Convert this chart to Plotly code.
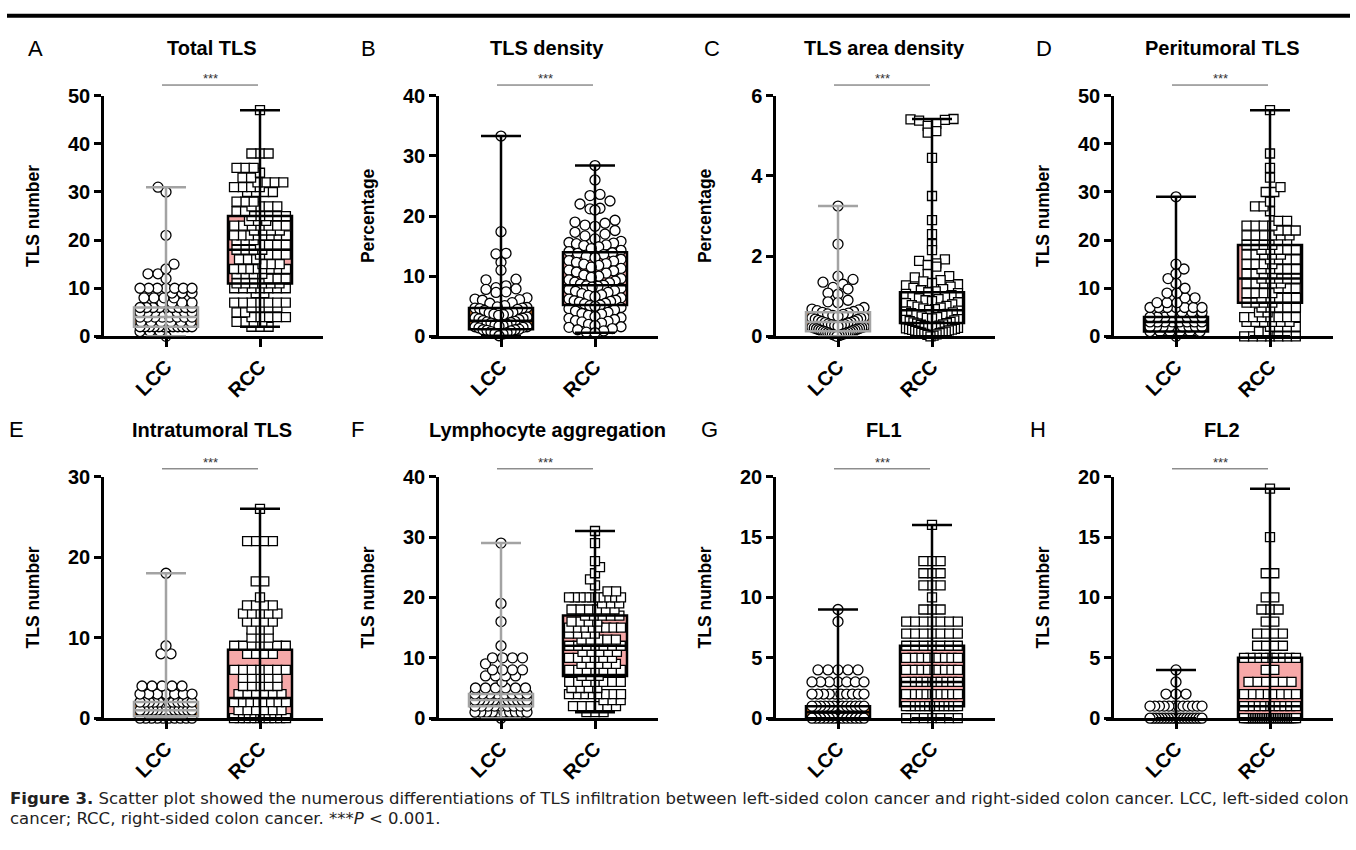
import numpy as np
import plotly.graph_objects as go

FIG_W, FIG_H = 1356, 850
FONT = "Liberation Sans, Arial, sans-serif"

# ---------------- data ----------------
CATS = ["LCC", "RCC"]

# A  Total TLS
A_lcc_v = [0, 1, 2, 3, 4, 5, 6, 7, 8, 9, 10, 12, 13, 14, 15, 21, 30, 31]
A_lcc_n = [1, 3, 12, 6, 8, 8, 9, 4, 4, 3, 7, 1, 2, 1, 1, 1, 1, 1]
A_rcc_v = [2, 3, 4, 5, 6, 7, 9, 10, 11, 12, 13, 14, 15, 16, 17, 18, 19, 20, 21, 22, 23, 24, 25, 26, 27, 28, 30, 31, 32, 33, 34, 35, 38, 47]
A_rcc_n = [3, 4, 5, 2, 4, 7, 2, 7, 6, 3, 4, 8, 3, 3, 4, 4, 4, 3, 8, 4, 7, 3, 5, 2, 4, 3, 4, 4, 4, 2, 1, 3, 3, 1]
A_lcc_box = [0, 2, 4, 6, 31]
A_rcc_box = [2, 11, 18, 25, 47]

# B  TLS density (%)
B_lcc = [33.3, 17.4, 13.8, 13.7, 12.3, 11.0, 9.5, 9.4, 8.4, 8.1, 7.9, 7.8, 7.4, 7.3, 6.4, 6.2,
         6.1, 6.0, 5.6, 5.5, 5.1, 4.9, 4.8, 4.7, 4.7, 4.6, 4.5, 4.3, 4.0, 3.9, 3.8, 3.7, 3.6,
         3.5, 3.2, 3.1, 3.0, 2.9, 2.8, 2.6, 2.5, 2.4, 2.3, 2.2, 2.0, 1.9, 1.8, 1.7, 1.6, 1.6,
         1.5, 1.4, 1.2, 1.1, 1.1, 1.0, 0.9, 0.8, 0.6, 0.5, 0.4, 0.1]
B_rcc = [28.4, 26.0, 23.6, 23.4, 22.5, 22.0, 21.3, 21.2, 21.0, 19.3, 19.0, 18.8, 18.5, 18.3,
         17.6, 17.3, 17.0, 16.7, 16.2, 15.8, 15.6, 15.5, 15.4, 15.2, 15.1, 14.9, 14.6, 14.3,
         14.1, 13.9, 13.8, 13.6, 13.3, 13.1, 12.8, 12.6, 12.5, 12.3, 12.1, 12.0, 11.8, 11.5,
         11.3, 11.0, 10.9, 10.7, 10.5, 10.2, 10.0, 9.8, 9.6, 9.4, 9.2, 9.0, 8.9, 8.7, 8.5,
         8.4, 8.3, 8.2, 8.0, 7.8, 7.6, 7.5, 7.3, 7.1, 6.9, 6.8, 6.6, 6.4, 6.2, 6.0, 5.9, 5.8,
         5.7, 5.5, 5.4, 5.2, 5.1, 5.0, 4.8, 4.6, 4.4, 4.2, 4.0, 3.8, 3.7, 3.5, 3.3, 3.1, 3.0,
         2.8, 2.6, 2.5, 2.4, 2.2, 2.0, 1.8, 1.6, 1.5, 1.3, 1.1, 0.9, 0.7, 0.6]
B_lcc_box = [0.1, 1.2, 2.6, 4.7, 33.3]
B_rcc_box = [0.6, 5.2, 8.5, 14.0, 28.4]

# C  TLS area density (%)
C_lcc = [3.25, 2.3, 1.5, 1.42, 1.35, 1.3, 1.22, 1.18, 1.08, 1.05, 0.9, 0.86, 0.84, 0.72, 0.68,
         0.66, 0.64, 0.62, 0.6, 0.58, 0.56, 0.55, 0.52, 0.5, 0.48, 0.46, 0.45, 0.43, 0.42, 0.4,
         0.38, 0.37, 0.35, 0.34, 0.33, 0.31, 0.3, 0.29, 0.28, 0.27, 0.25, 0.24, 0.23, 0.22,
         0.21, 0.2, 0.19, 0.18, 0.17, 0.16, 0.15, 0.14, 0.13, 0.12, 0.11, 0.1, 0.09, 0.08,
         0.07, 0.06, 0.05, 0.04, 0.03, 0.02, 0.0]
C_rcc = [5.42, 5.41, 5.40, 5.38, 5.30, 5.25, 5.12, 5.08, 4.45, 3.50, 2.90, 2.55, 2.30, 2.15,
         1.92, 1.88, 1.82, 1.78, 1.74, 1.55, 1.50, 1.47, 1.40, 1.37, 1.33, 1.30, 1.27, 1.24,
         1.21, 1.18, 1.15, 1.12, 1.10, 1.08, 1.06, 1.03, 1.00, 0.98, 0.95, 0.93, 0.90, 0.88,
         0.85, 0.83, 0.80, 0.78, 0.76, 0.74, 0.72, 0.70, 0.68, 0.66, 0.64, 0.62, 0.60, 0.58,
         0.56, 0.54, 0.52, 0.50, 0.48, 0.46, 0.45, 0.43, 0.41, 0.40, 0.38, 0.36, 0.35, 0.33,
         0.32, 0.30, 0.29, 0.27, 0.26, 0.25, 0.23, 0.22, 0.21, 0.20, 0.19, 0.18, 0.17, 0.16,
         0.15, 0.14, 0.12, 0.11, 0.10, 0.09, 0.08, 0.06, 0.05, 0.04, 0.02, 0.0]
C_lcc_box = [0.0, 0.13, 0.36, 0.6, 3.25]
C_rcc_box = [0.0, 0.33, 0.65, 1.1, 5.42]

# D  Peritumoral TLS
D_lcc_v = [0, 1, 2, 3, 4, 5, 6, 7, 8, 9, 10, 11, 12, 13, 14, 15, 29]
D_lcc_n = [1, 6, 9, 8, 8, 4, 7, 3, 2, 2, 1, 1, 1, 1, 1, 1, 1]
D_rcc_v = [0, 1, 2, 3, 4, 5, 6, 7, 8, 9, 10, 11, 12, 13, 14, 15, 16, 17, 18, 19, 20, 21, 22, 23, 24, 26, 27, 28, 30, 31, 33, 35, 38, 47]
D_rcc_n = [7, 2, 4, 6, 7, 2, 5, 4, 5, 4, 3, 5, 5, 4, 5, 4, 4, 5, 5, 4, 2, 6, 3, 4, 2, 1, 2, 1, 2, 1, 1, 1, 1, 1]
D_lcc_box = [0, 1, 3, 4, 29]
D_rcc_box = [0, 7, 12, 19, 47]

# E  Intratumoral TLS
E_lcc_v = [0, 1, 2, 3, 4, 8, 9, 18]
E_lcc_n = [10, 13, 12, 7, 5, 2, 1, 1]
E_rcc_v = [0, 1, 2, 3, 4, 5, 6, 8, 9, 10, 11, 12, 13, 14, 15, 17, 22, 26]
E_rcc_n = [10, 6, 8, 6, 5, 5, 7, 4, 7, 3, 3, 4, 5, 4, 1, 2, 4, 1]
E_lcc_box = [0, 0.25, 1, 2, 18]
E_rcc_box = [0, 0, 2.5, 8.5, 26]

# F  Lymphocyte aggregation
F_lcc_v = [0, 1, 2, 3, 4, 5, 6, 7, 8, 9, 10, 12, 16, 19, 29]
F_lcc_n = [1, 10, 9, 12, 8, 6, 1, 4, 4, 1, 4, 1, 1, 1, 1]
F_rcc_v = [1, 2, 3, 4, 5, 6, 7, 8, 9, 10, 11, 12, 13, 14, 15, 16, 17, 18, 19, 20, 21, 22, 23, 24, 25, 26, 29, 31]
F_rcc_n = [3, 6, 3, 8, 4, 7, 3, 7, 5, 6, 5, 7, 5, 4, 8, 4, 5, 6, 3, 10, 2, 1, 1, 1, 1, 1, 1, 1]
F_lcc_box = [0, 2, 3, 4, 29]
F_rcc_box = [1, 7, 12, 17, 31]

# G  FL1
G_lcc_v = [0, 1, 2, 3, 4, 8, 9]
G_lcc_n = [13, 13, 10, 7, 5, 1, 1]
G_rcc_v = [0, 1, 2, 3, 4, 5, 6, 7, 8, 9, 10, 11, 12, 13, 16]
G_rcc_n = [7, 12, 10, 10, 9, 9, 7, 7, 7, 3, 1, 3, 3, 3, 1]
G_lcc_box = [0, 0, 0.5, 1, 9]
G_rcc_box = [0, 1, 3, 6, 16]

# H  FL2
H_lcc_v = [0, 1, 2, 3, 4]
H_lcc_n = [18, 12, 3, 1, 1]
H_rcc_v = [0, 1, 2, 3, 4, 5, 6, 7, 8, 9, 10, 12, 15, 19]
H_rcc_n = [30, 10, 8, 6, 2, 9, 4, 4, 2, 3, 2, 2, 1, 1]
H_lcc_box = [0, 0, 0, 0, 4]
H_rcc_box = [0, 0, 1, 5, 19]

# ---------------- styling ----------------
ORANGE = "#c2661c"
TAN = "#a9825f"
PINK = "#f6a8a8"
GRAY = "#a3a3a3"
BLACK = "#000000"


def rep(v, n):
    return np.repeat(np.asarray(v, float), n)


panels = [
    dict(letter="A", title="Total TLS", ylab="TLS number", ymax=50, dtick=10,
         lcc=rep(A_lcc_v, A_lcc_n), rcc=rep(A_rcc_v, A_rcc_n), lbox=A_lcc_box, rbox=A_rcc_box,
         ledge=GRAY, lfill=ORANGE, rsym="square", rows="value"),
    dict(letter="B", title="TLS density", ylab="Percentage", ymax=40, dtick=10,
         lcc=np.array(B_lcc), rcc=np.array(B_rcc), lbox=B_lcc_box, rbox=B_rcc_box,
         ledge=BLACK, lfill=ORANGE, rsym="circle", rows="px"),
    dict(letter="C", title="TLS area density", ylab="Percentage", ymax=6, dtick=2,
         lcc=np.array(C_lcc), rcc=np.array(C_rcc), lbox=C_lcc_box, rbox=C_rcc_box,
         ledge=GRAY, lfill=ORANGE, rsym="square", rows="px"),
    dict(letter="D", title="Peritumoral TLS", ylab="TLS number", ymax=50, dtick=10,
         lcc=rep(D_lcc_v, D_lcc_n), rcc=rep(D_rcc_v, D_rcc_n), lbox=D_lcc_box, rbox=D_rcc_box,
         ledge=BLACK, lfill=ORANGE, rsym="square", rows="value"),
    dict(letter="E", title="Intratumoral TLS", ylab="TLS number", ymax=30, dtick=10,
         lcc=rep(E_lcc_v, E_lcc_n), rcc=rep(E_rcc_v, E_rcc_n), lbox=E_lcc_box, rbox=E_rcc_box,
         ledge=GRAY, lfill=ORANGE, rsym="square", rows="value"),
    dict(letter="F", title="Lymphocyte aggregation", ylab="TLS number", ymax=40, dtick=10,
         lcc=rep(F_lcc_v, F_lcc_n), rcc=rep(F_rcc_v, F_rcc_n), lbox=F_lcc_box, rbox=F_rcc_box,
         ledge=GRAY, lfill=TAN, rsym="square", rows="value"),
    dict(letter="G", title="FL1", ylab="TLS number", ymax=20, dtick=5,
         lcc=rep(G_lcc_v, G_lcc_n), rcc=rep(G_rcc_v, G_rcc_n), lbox=G_lcc_box, rbox=G_rcc_box,
         ledge=BLACK, lfill=ORANGE, rsym="square", rows="value"),
    dict(letter="H", title="FL2", ylab="TLS number", ymax=20, dtick=5,
         lcc=rep(H_lcc_v, H_lcc_n), rcc=rep(H_rcc_v, H_rcc_n), lbox=H_lcc_box, rbox=H_rcc_box,
         ledge=BLACK, lfill=ORANGE, rsym="square", rows="value"),
]

# geometry (pixels)
YAXIS_PX = [102, 437, 774, 1112]
ROWS = [(87, 334), (478, 726)]
LETTER_X = [[35, 369, 712, 1044], [16, 357, 709, 1038]]
TITLE_Y = [38, 430]
PX_PER_CAT = 94.0
X_RANGE = [-70 / PX_PER_CAT, 1 + 63 / PX_PER_CAT]
BOX_HW = 32 / PX_PER_CAT
CAP_HW = 20 / PX_PER_CAT
SIZE = {"circle": 10, "square": 9}
SPACING = {"circle": 10.0, "square": 8.6}
HALF_W = 26.0


def row_offsets(vals, ppu, sym, mode):
    """GraphPad-like scatter: points in the same row are laid side by side, centred
    (lowest values in the middle), compressed to stay within +-HALF_W px.  Narrow rows
    may slide sideways to avoid overlapping the rows already placed beneath them."""
    vals = np.asarray(vals, float)
    d = SPACING[sym]
    keys = np.floor(vals * ppu / SIZE[sym]) if mode == "px" else vals
    out = np.zeros(len(vals))
    placed_x, placed_y = [], []
    last_sign = 1.0
    for key in np.unique(keys):
        idx = np.where(keys == key)[0]
        idx = idx[np.argsort(vals[idx], kind="stable")]
        k = len(idx)
        s = d if k == 1 else min(d, 2 * HALF_W / (k - 1))
        slots = (np.arange(k) - (k - 1) / 2) * s
        order = np.argsort(np.abs(slots) - 1e-6 * (slots < 0), kind="stable")
        base = slots[order]
        ys = vals[idx] * ppu
        shift = 0.0
        if mode == "value" and placed_x:
            room = HALF_W - (k - 1) * s / 2
            PX, PY = np.array(placed_x), np.array(placed_y)
            near = np.abs(PY - ys[0]) < d
            if room > 0.25 and near.any():
                cands = np.arange(-room, room + 1e-9, 0.5)
                pen = []
                for c in cands:
                    dist = np.sqrt((base[:, None] + c - PX[near][None, :]) ** 2 +
                                   (ys[:, None] - PY[near][None, :]) ** 2)
                    pen.append(np.clip(0.92 * d - dist, 0, None).sum())
                pen = np.array(pen)
                good = pen <= pen.min() + 1e-6
                best = np.abs(cands[good]).min()
                ch = cands[good & (np.abs(np.abs(cands) - best) < 1e-9)]
                if len(ch) > 1:
                    shift = ch.max() if last_sign < 0 else ch.min()
                else:
                    shift = ch[0]
                if shift != 0:
                    last_sign = np.sign(shift)
        out[idx] = base + shift
        placed_x.extend(list(base + shift))
        placed_y.extend(list(ys))
    return out


fig = go.Figure()
shapes = []
annotations = []
layout = {}
TICKFONT = dict(family=FONT, size=20, color="black", weight="bold")

for k, p in enumerate(panels):
    col, row = k % 4, k // 4
    i = k + 1
    xa = "x" if i == 1 else f"x{i}"
    ya = "y" if i == 1 else f"y{i}"
    ypx = YAXIS_PX[col]
    top, bot = ROWS[row]
    ppu = (bot - top) / p["ymax"]

    layout["xaxis" if i == 1 else f"xaxis{i}"] = dict(
        domain=[(ypx - 6) / FIG_W, (ypx + 221) / FIG_W], anchor=ya, range=X_RANGE,
        showgrid=False, zeroline=False, showline=True, linecolor="black", linewidth=2.5,
        tickvals=[0, 1], ticktext=CATS, tickangle=-45, ticks="outside", ticklen=8,
        tickwidth=2.5, tickcolor="black", tickfont=TICKFONT, fixedrange=True)
    layout["yaxis" if i == 1 else f"yaxis{i}"] = dict(
        domain=[1 - bot / FIG_H, 1 - top / FIG_H], anchor="free", position=ypx / FIG_W,
        range=[0, p["ymax"]], dtick=p["dtick"], tick0=0, showgrid=False, zeroline=False,
        showline=True, linecolor="black", linewidth=2.5, ticks="outside", ticklen=7,
        tickwidth=2.5, tickcolor="black", tickfont=TICKFONT, fixedrange=True)

    groups = [
        (0, p["lcc"], p["lbox"], p["ledge"], p["lfill"], "circle"),
        (1, p["rcc"], p["rbox"], BLACK, PINK, p["rsym"]),
    ]
    for c, vals, box, edge, fill, sym in groups:
        mn, q1, med, q3, mx = box
        shapes.append(dict(type="rect", xref=xa, yref=ya, x0=c - BOX_HW, x1=c + BOX_HW,
                           y0=q1, y1=q3, fillcolor=fill, line=dict(width=0), layer="below"))
        offs = row_offsets(vals, ppu, sym, p["rows"]) / PX_PER_CAT
        fig.add_trace(go.Scatter(
            x=c + offs, y=vals, xaxis=xa, yaxis=ya, mode="markers", cliponaxis=False,
            marker=dict(symbol=sym, size=SIZE[sym], color="white",
                        line=dict(color="black", width=1.3)),
            showlegend=False, hoverinfo="y"))
        lw = 2.5
        if q3 > q1:
            shapes.append(dict(type="rect", xref=xa, yref=ya, x0=c - BOX_HW, x1=c + BOX_HW,
                               y0=q1, y1=q3, line=dict(color=edge, width=lw)))
            shapes.append(dict(type="line", xref=xa, yref=ya, x0=c - BOX_HW, x1=c + BOX_HW,
                               y0=med, y1=med, line=dict(color=edge, width=lw)))
        shapes.append(dict(type="line", xref=xa, yref=ya, x0=c, x1=c, y0=mn, y1=mx,
                           line=dict(color=edge, width=lw)))
        for yy in (mn, mx):
            shapes.append(dict(type="line", xref=xa, yref=ya, x0=c - CAP_HW, x1=c + CAP_HW,
                               y0=yy, y1=yy, line=dict(color=edge, width=lw)))

    sig_y = top - (11 if row == 0 else 8)
    shapes.append(dict(type="line", xref=xa, yref="paper", x0=-4 / PX_PER_CAT, x1=1 - 2 / PX_PER_CAT,
                       y0=1 - sig_y / FIG_H, y1=1 - sig_y / FIG_H, line=dict(color="#555555", width=1)))
    annotations.append(dict(xref=xa, yref="paper", x=0.47, y=1 - (sig_y - 7) / FIG_H,
                            text="***", showarrow=False, xanchor="center", yanchor="middle",
                            font=dict(family=FONT, size=13, color="#333333")))
    annotations.append(dict(xref="paper", yref="paper", x=(ypx + 110) / FIG_W, y=1 - TITLE_Y[row] / FIG_H,
                            text=f"<b>{p['title']}</b>", showarrow=False, xanchor="center", yanchor="middle",
                            font=dict(family=FONT, size=20, color="black")))
    annotations.append(dict(xref="paper", yref="paper", x=LETTER_X[row][col] / FIG_W, y=1 - TITLE_Y[row] / FIG_H,
                            text=p["letter"], showarrow=False, xanchor="center", yanchor="middle",
                            font=dict(family=FONT, size=22, color="black")))
    annotations.append(dict(xref="paper", yref="paper", x=(ypx - 69) / FIG_W, y=1 - ((top + bot) / 2) / FIG_H,
                            text=f"<b>{p['ylab']}</b>", showarrow=False, textangle=-90,
                            xanchor="center", yanchor="middle",
                            font=dict(family=FONT, size=17.5, color="black")))

shapes.append(dict(type="line", xref="paper", yref="paper", x0=7 / FIG_W, x1=1350 / FIG_W,
                   y0=1 - 5 / FIG_H, y1=1 - 5 / FIG_H, line=dict(color="black", width=4)))

CAP_FONT = dict(family="DejaVu Sans, Liberation Sans, sans-serif", size=16.5, color="#222222")
annotations.append(dict(xref="paper", yref="paper", x=8 / FIG_W, y=1 - 808 / FIG_H,
                        text="<b>Figure 3.</b> Scatter plot showed the numerous differentiations of TLS infiltration between left-sided colon cancer and right-sided colon cancer. LCC, left-sided colon",
                        showarrow=False, xanchor="left", yanchor="middle", font=CAP_FONT))
annotations.append(dict(xref="paper", yref="paper", x=8 / FIG_W, y=1 - 829 / FIG_H,
                        text="cancer; RCC, right-sided colon cancer. ***<i>P</i> &lt; 0.001.",
                        showarrow=False, xanchor="left", yanchor="middle", font=CAP_FONT))

fig.update_layout(
    width=FIG_W, height=FIG_H, margin=dict(l=0, r=0, t=0, b=0),
    paper_bgcolor="white", plot_bgcolor="white", showlegend=False,
    shapes=shapes, annotations=annotations, **layout)

fig.write_html("out.html")
